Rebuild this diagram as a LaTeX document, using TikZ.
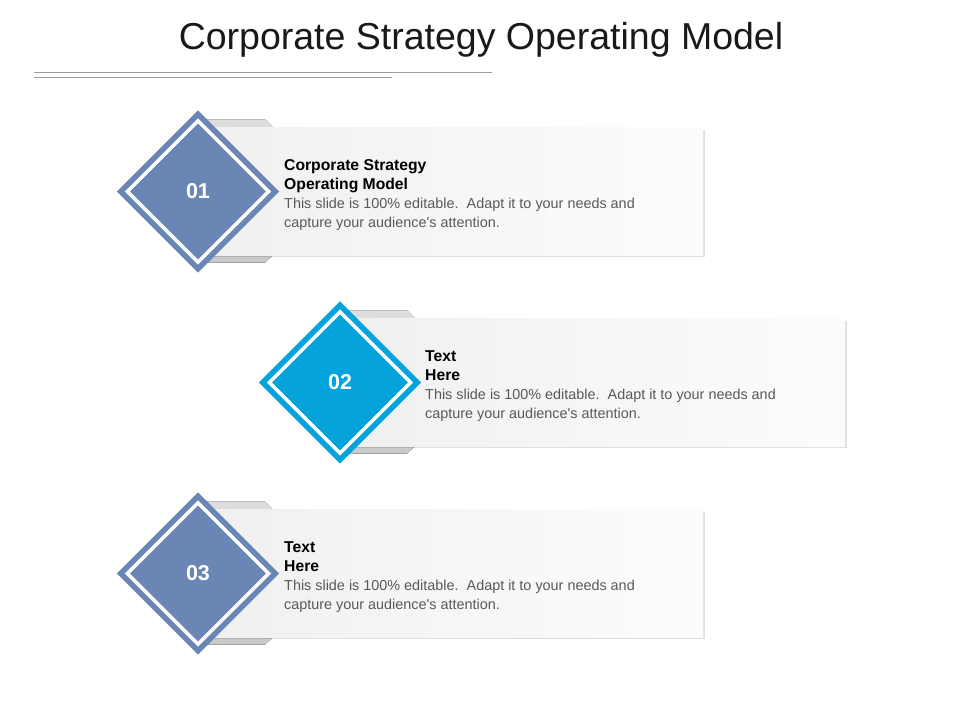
\documentclass[tikz,border=0pt]{standalone}
\usepackage{fontspec}
\setmainfont{Liberation Sans}
\usepackage{tikz}
\usetikzlibrary{shapes.geometric,shadows}
\definecolor{slateblue}{HTML}{6A86B4}
\definecolor{skyblue}{HTML}{05A3DC}
\definecolor{bodygray}{HTML}{595959}
\newcommand{\bodyText}[0]{This slide is 100\% editable.\ \ Adapt it to your needs and\\capture your audience\textquotesingle s attention.}

\begin{document}
\begin{tikzpicture}[x=1pt, y=-1pt,
  diamondbox/.style={shape=diamond, aspect=1, minimum size=143.5pt, inner sep=0pt,
    fill=#1, draw=#1, line width=5.8pt, double=white, double distance=3.5pt,
    text=white, font=\fontsize{21.5}{24}\selectfont\bfseries},
  card/.style={rectangle, minimum width=503pt, minimum height=127.5pt, inner sep=0pt,
    left color=black!6, right color=black!1,
    drop shadow={shadow xshift=2pt, shadow yshift=-2pt, opacity=0.12, fill=black}},
  tabshape/.style={top color=black!13, bottom color=black!21},
  headtext/.style={anchor=north west, inner sep=0pt, align=left,
    font=\fontsize{15.7}{18.7}\selectfont\bfseries},
  bodytext/.style={anchor=north west, inner sep=0pt, align=left, text=bodygray,
    font=\fontsize{14.4}{18.7}\selectfont},
  rule/.style={draw=black!38, line width=1pt}]
  \useasboundingbox (0,0) rectangle (960,720);

  \node[anchor=base, text=black!90, font=\fontsize{37.5}{40}\selectfont] (title) at (481,49) {Corporate Strategy Operating Model};
  \coordinate (ruleAa) at (34,72.3);
  \coordinate (ruleAb) at (492,72.3);
  \coordinate (ruleBa) at (34,77);
  \coordinate (ruleBb) at (392,77);
  \draw[rule] (ruleAa) -- (ruleAb);
  \draw[rule] (ruleBa) -- (ruleBb);

  \begin{scope}[shift={(198,191.5)}]
    \fill[tabshape] (0,-72) -- (67,-72) -- (75,-64) -- (75,63.5) -- (67,71) -- (0,71) -- cycle;
    \node[card] (cardA) at (253.5,-0.25) {};
    \node[diamondbox=slateblue] (numA) at (0,0) {01};
    \node[headtext] (headA) at (86,-32.2) {Corporate Strategy\\Operating Model};
    \node[bodytext] (bodyA) at (86,6.3) {\bodyText};
  \end{scope}

  \begin{scope}[shift={(340,382.5)}]
    \fill[tabshape] (0,-72) -- (67,-72) -- (75,-64) -- (75,63.5) -- (67,71) -- (0,71) -- cycle;
    \node[card] (cardB) at (253.5,-0.25) {};
    \node[diamondbox=skyblue] (numB) at (0,0) {02};
    \node[headtext] (headB) at (85,-32.2) {Text\\Here};
    \node[bodytext] (bodyB) at (85,6.3) {\bodyText};
  \end{scope}

  \begin{scope}[shift={(198,573.5)}]
    \fill[tabshape] (0,-72) -- (67,-72) -- (75,-64) -- (75,63.5) -- (67,71) -- (0,71) -- cycle;
    \node[card] (cardC) at (253.5,-0.25) {};
    \node[diamondbox=slateblue] (numC) at (0,0) {03};
    \node[headtext] (headC) at (86,-32.2) {Text\\Here};
    \node[bodytext] (bodyC) at (86,6.3) {\bodyText};
  \end{scope}
\end{tikzpicture}
\end{document}
